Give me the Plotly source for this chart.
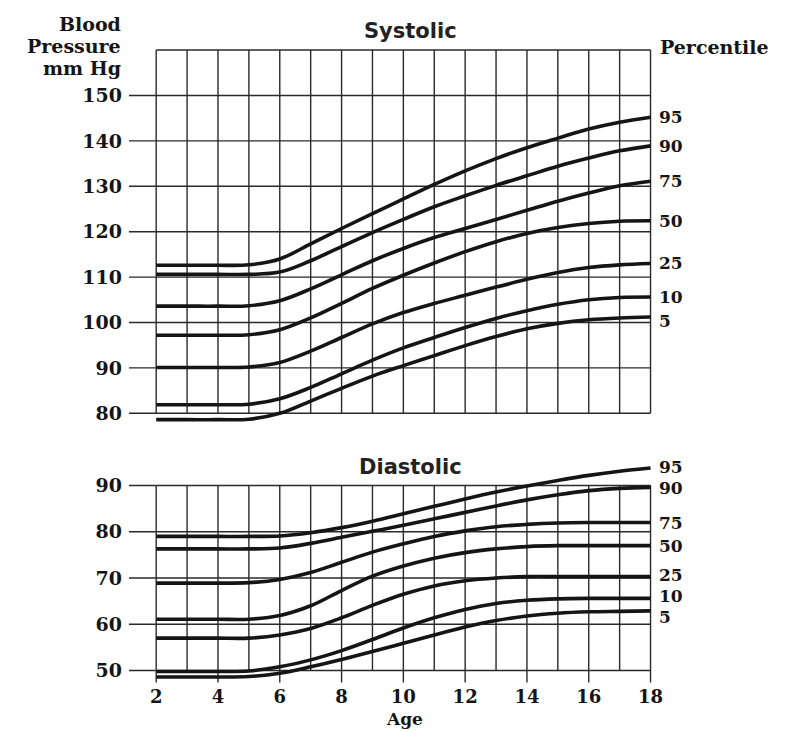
import plotly.graph_objects as go

# ---------------- data ----------------
AGES = list(range(2, 19))
PERCENTILES = ["95", "90", "75", "50", "25", "10", "5"]

SYS_95 = [112.6, 112.6, 112.6, 112.7, 114.0, 117.3, 120.7, 124.0, 127.2, 130.4, 133.4, 136.1, 138.5, 140.6, 142.6, 144.1, 145.2]
SYS_90 = [110.6, 110.6, 110.6, 110.6, 111.1, 113.6, 116.7, 119.8, 122.7, 125.5, 127.9, 130.2, 132.3, 134.4, 136.2, 137.8, 138.9]
SYS_75 = [103.6, 103.6, 103.6, 103.7, 104.8, 107.4, 110.5, 113.6, 116.3, 118.7, 120.7, 122.7, 124.7, 126.7, 128.5, 130.1, 131.1]
SYS_50 = [97.2, 97.2, 97.2, 97.3, 98.4, 101.0, 104.2, 107.5, 110.4, 113.1, 115.6, 117.8, 119.6, 120.9, 121.8, 122.3, 122.4]
SYS_25 = [90.1, 90.1, 90.1, 90.2, 91.2, 93.7, 96.7, 99.7, 102.2, 104.2, 106.0, 107.8, 109.5, 111.0, 112.1, 112.7, 113.0]
SYS_10 = [81.9, 81.9, 81.9, 82.0, 83.2, 85.7, 88.7, 91.7, 94.4, 96.7, 98.9, 100.9, 102.6, 104.0, 105.0, 105.5, 105.6]
SYS_5 = [78.6, 78.6, 78.6, 78.7, 80.0, 82.7, 85.5, 88.2, 90.5, 92.7, 94.9, 96.9, 98.6, 99.8, 100.6, 101.0, 101.2]

DIA_95 = [79.0, 79.0, 79.0, 79.0, 79.1, 79.8, 80.9, 82.3, 83.9, 85.5, 87.1, 88.6, 89.9, 91.1, 92.2, 93.1, 93.8]
DIA_90 = [76.3, 76.3, 76.3, 76.3, 76.5, 77.5, 78.8, 80.1, 81.4, 82.8, 84.2, 85.6, 86.9, 88.0, 88.9, 89.4, 89.6]
DIA_75 = [68.9, 68.9, 68.9, 69.0, 69.7, 71.2, 73.4, 75.6, 77.4, 79.0, 80.2, 81.1, 81.6, 81.9, 82.0, 82.0, 82.0]
DIA_50 = [61.1, 61.1, 61.1, 61.1, 61.9, 64.0, 67.3, 70.4, 72.6, 74.3, 75.5, 76.3, 76.8, 77.0, 77.0, 77.0, 77.0]
DIA_25 = [57.0, 57.0, 57.0, 57.0, 57.7, 59.1, 61.4, 64.1, 66.5, 68.3, 69.4, 70.0, 70.3, 70.3, 70.3, 70.3, 70.3]
DIA_10 = [49.8, 49.8, 49.8, 49.9, 50.8, 52.3, 54.3, 56.7, 59.2, 61.4, 63.2, 64.5, 65.2, 65.5, 65.6, 65.6, 65.6]
DIA_5 = [48.6, 48.6, 48.6, 48.7, 49.4, 50.8, 52.4, 54.1, 55.9, 57.7, 59.4, 60.8, 61.8, 62.4, 62.7, 62.8, 62.9]

SYS_SERIES = [SYS_95, SYS_90, SYS_75, SYS_50, SYS_25, SYS_10, SYS_5]
DIA_SERIES = [DIA_95, DIA_90, DIA_75, DIA_50, DIA_25, DIA_10, DIA_5]

SYS_TICKS = [80, 90, 100, 110, 120, 130, 140, 150]
SYS_TOP = 160
DIA_TICKS = [50, 60, 70, 80, 90]
AGE_TICKS = [2, 4, 6, 8, 10, 12, 14, 16, 18]
Y_TITLE_LINES = ["Blood", "Pressure", "mm Hg"]

# ---------------- styling / layout ----------------
W, H = 787, 731
OFF = 8                      # page body margin of the html page
L_PX, R_PX = 121, 645        # plot area in figure pixels
X_RANGE = [1.12, 18.08]
SYS_RANGE = [77, 161]
DIA_RANGE = [47.0, 95.5]
SYS_DOMAIN = [0.4269, 0.9487]
DIA_DOMAIN = [0.0747, 0.3815]
SERIF = "DejaVu Serif"
SANS = "DejaVu Sans"
INK = "#151515"
GRID = "#2a2a2a"
SYS_NUDGE = {"5": -4}
DIA_NUDGE = {"95": 1, "90": -1, "25": 2, "10": 2, "5": -6}
Y_TITLE_PX = [24, 46, 68]


def px_x(px):
    """reference-screen pixel -> paper x"""
    return (px - OFF - L_PX) / (R_PX - L_PX)


def px_y(py):
    """reference-screen pixel -> paper y"""
    return 1 - (py - OFF) / H


fig = go.Figure()
curve = dict(color=INK, width=3.6, shape="spline", smoothing=1.0)

for name, vals in zip(PERCENTILES, SYS_SERIES):
    fig.add_trace(go.Scatter(x=AGES, y=vals, mode="lines", name=name, line=curve,
                             xaxis="x", yaxis="y", showlegend=False, hoverinfo="skip"))
for name, vals in zip(PERCENTILES, DIA_SERIES):
    fig.add_trace(go.Scatter(x=AGES, y=vals, mode="lines", name=name, line=curve,
                             xaxis="x2", yaxis="y2", showlegend=False, hoverinfo="skip"))

shapes = []
gl = dict(color=GRID, width=1.4)
age_min, age_max = AGES[0], AGES[-1]
# systolic grid
for t in SYS_TICKS:
    shapes.append(dict(type="line", xref="x", yref="y", x0=X_RANGE[0], x1=age_max, y0=t, y1=t, line=gl, layer="below"))
shapes.append(dict(type="line", xref="x", yref="y", x0=age_min, x1=age_max, y0=SYS_TOP, y1=SYS_TOP, line=gl, layer="below"))
for a in AGES:
    shapes.append(dict(type="line", xref="x", yref="y", x0=a, x1=a, y0=SYS_TICKS[0], y1=SYS_TOP, line=gl, layer="below"))
# diastolic grid
for t in DIA_TICKS:
    shapes.append(dict(type="line", xref="x2", yref="y2", x0=X_RANGE[0], x1=age_max, y0=t, y1=t, line=gl, layer="below"))
for a in AGES:
    y0 = 47.4 if a in AGE_TICKS else DIA_TICKS[0]
    shapes.append(dict(type="line", xref="x2", yref="y2", x0=a, x1=a, y0=y0, y1=DIA_TICKS[-1], line=gl, layer="below"))

annotations = []
lab_font = dict(family=SERIF, size=17, color=INK, weight="bold")
for name, vals in zip(PERCENTILES, SYS_SERIES):
    annotations.append(dict(x=age_max, y=vals[-1], xref="x", yref="y", text=name, showarrow=False,
                            xanchor="left", yanchor="middle", xshift=6, yshift=SYS_NUDGE.get(name, 0),
                            font=lab_font))
for name, vals in zip(PERCENTILES, DIA_SERIES):
    annotations.append(dict(x=age_max, y=vals[-1], xref="x2", yref="y2", text=name, showarrow=False,
                            xanchor="left", yanchor="middle", xshift=6, yshift=DIA_NUDGE.get(name, 0),
                            font=lab_font))

title_font = dict(family=SANS, size=21, color="#222", weight="bold")
annotations += [
    dict(x=px_x(410), y=px_y(31), xref="paper", yref="paper", text="Systolic", showarrow=False,
         xanchor="center", yanchor="middle", font=title_font),
    dict(x=px_x(410), y=px_y(467), xref="paper", yref="paper", text="Diastolic", showarrow=False,
         xanchor="center", yanchor="middle", font=title_font),
    dict(x=px_x(658), y=px_y(47), xref="paper", yref="paper", text="Percentile", showarrow=False,
         xanchor="left", yanchor="middle", font=dict(family=SERIF, size=19, color=INK, weight="bold")),
    dict(x=px_x(404), y=px_y(719), xref="paper", yref="paper", text="Age", showarrow=False,
         xanchor="center", yanchor="middle", font=dict(family=SERIF, size=17, color=INK, weight="bold")),
]
for line_text, py in zip(Y_TITLE_LINES, Y_TITLE_PX):
    annotations.append(dict(x=px_x(123), y=px_y(py), xref="paper", yref="paper", text=line_text,
                            showarrow=False, xanchor="right", yanchor="middle",
                            font=dict(family=SERIF, size=19, color=INK, weight="bold")))

tick_font = dict(family=SERIF, size=19, color=INK, weight="bold")
fig.update_layout(
    width=W, height=H, autosize=False,
    margin=dict(l=L_PX, r=W - R_PX, t=0, b=0, pad=0),
    paper_bgcolor="white", plot_bgcolor="white",
    xaxis=dict(domain=[0, 1], range=X_RANGE, anchor="y", showgrid=False, zeroline=False,
               showticklabels=False, ticks="", showline=False),
    xaxis2=dict(domain=[0, 1], range=X_RANGE, anchor="y2", showgrid=False, zeroline=False,
                tickmode="array", tickvals=AGE_TICKS, ticktext=[str(a) for a in AGE_TICKS],
                ticks="", showline=False, tickfont=dict(family=SERIF, size=18, color=INK, weight="bold"),
                ticklabelstandoff=0),
    yaxis=dict(domain=SYS_DOMAIN, range=SYS_RANGE, anchor="x", showgrid=False, zeroline=False,
               tickmode="array", tickvals=SYS_TICKS, ticktext=[str(t) for t in SYS_TICKS],
               ticks="", showline=False, tickfont=tick_font, ticklabelstandoff=6),
    yaxis2=dict(domain=DIA_DOMAIN, range=DIA_RANGE, anchor="x2", showgrid=False, zeroline=False,
                tickmode="array", tickvals=DIA_TICKS, ticktext=[str(t) for t in DIA_TICKS],
                ticks="", showline=False, tickfont=tick_font, ticklabelstandoff=6),
    shapes=shapes,
    annotations=annotations,
    showlegend=False,
)

fig.write_html("out.html")
